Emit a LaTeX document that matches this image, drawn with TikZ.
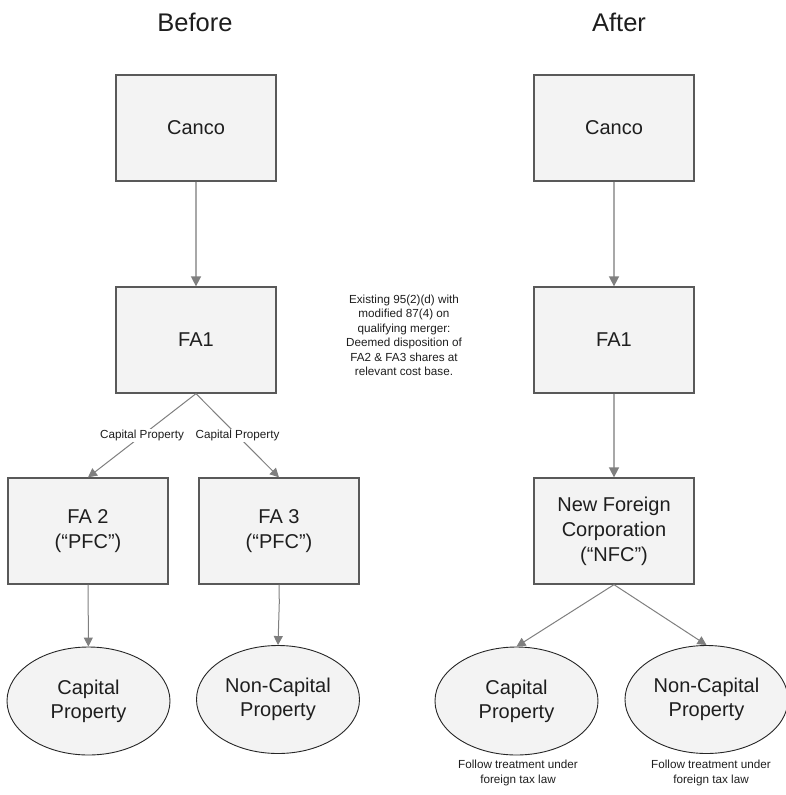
\documentclass[tikz,border=0pt]{standalone}
\usepackage{fontspec}
\setmainfont{Liberation Sans}
\usetikzlibrary{shapes.geometric,arrows.meta}
\definecolor{boxfill}{HTML}{F3F3F3}
\definecolor{boxline}{HTML}{595959}
\definecolor{linkgray}{HTML}{7F7F7F}
\definecolor{lightlink}{HTML}{A8A8A8}
\definecolor{inktext}{HTML}{1E1E1E}

\begin{document}
\begin{tikzpicture}[x=1pt,y=-1pt,
  entity/.style={draw=boxline, line width=1.3pt, fill=boxfill,
    minimum width=160pt, minimum height=106pt, inner sep=0pt,
    align=center, text=inktext, font=\fontsize{20}{25}\selectfont},
  pool/.style={ellipse, draw=black!85, line width=0.9pt, fill=boxfill,
    minimum width=163pt, minimum height=108pt, inner sep=0pt,
    align=center, text=inktext, font=\fontsize{20}{24}\selectfont},
  heading/.style={text=inktext, font=\fontsize{25.5}{28}\selectfont},
  small/.style={align=center, text=inktext, font=\fontsize{11.7}{14.5}\selectfont},
  link/.style={draw=linkgray, line width=1pt, -{Triangle[width=9pt,length=9pt,color=linkgray]}},
  lightlinkstyle/.style={draw=lightlink, line width=1.6pt,
    -{Triangle[width=10pt,length=10pt,color=linkgray]}},
  tag/.style={fill=white, inner sep=1.5pt, text=inktext, font=\fontsize{11.7}{14}\selectfont},
]
\useasboundingbox (0,0) rectangle (785,795);

% column titles
\node[heading] (titleA) at (195,22) {Before};
\node[heading] (titleB) at (619,22) {After};

% before structure
\node[entity] (cancoA) at (196,128) {Canco};
\node[entity] (faA) at (196,340) {FA1};
\node[entity] (fa2) at (88,531) {FA 2\\(“PFC”)};
\node[entity] (fa3) at (279,531) {FA 3\\(“PFC”)};
\node[pool] (capA) at (88.5,701) {Capital\\Property};
\node[pool] (ncapA) at (278,699.5) {Non-Capital\\Property};

% after structure
\node[entity] (cancoB) at (614,128) {Canco};
\node[entity] (faB) at (614,340) {FA1};
\node[entity] (nfc) at (614,531) {New Foreign\\Corporation\\(“NFC”)};
\node[pool] (capB) at (516.5,701) {Capital\\Property};
\node[pool] (ncapB) at (706.5,699.5) {Non-Capital\\Property};

% notes
\node[small] (merger) at (404,335.5) {Existing 95(2)(d) with\\modified 87(4) on\\qualifying merger:\\Deemed disposition of\\FA2 \& FA3 shares at\\relevant cost base.};
\node[small] (treatA) at (518,773) {Follow treatment under\\foreign tax law};
\node[small] (treatB) at (711,773) {Follow treatment under\\foreign tax law};

% connectors, before
\draw[lightlinkstyle] (cancoA) -- (faA);
\draw[link] (faA.south) -- (fa2.north) node[tag, midway] (lblA) {Capital Property};
\draw[link] (faA.south) -- (fa3.north) node[tag, midway] (lblB) {Capital Property};
\draw[link] (fa2) -- (capA);
\coordinate (jog) at (279.3,602);
\draw[link] (fa3.south) -- (jog) -- (ncapA.north);

% connectors, after
\draw[lightlinkstyle] (cancoB) -- (faB);
\draw[lightlinkstyle] (faB) -- (nfc);
\draw[link] (nfc.south) -- (capB.north);
\draw[link] (nfc.south) -- (ncapB.north);
\end{tikzpicture}
\end{document}
